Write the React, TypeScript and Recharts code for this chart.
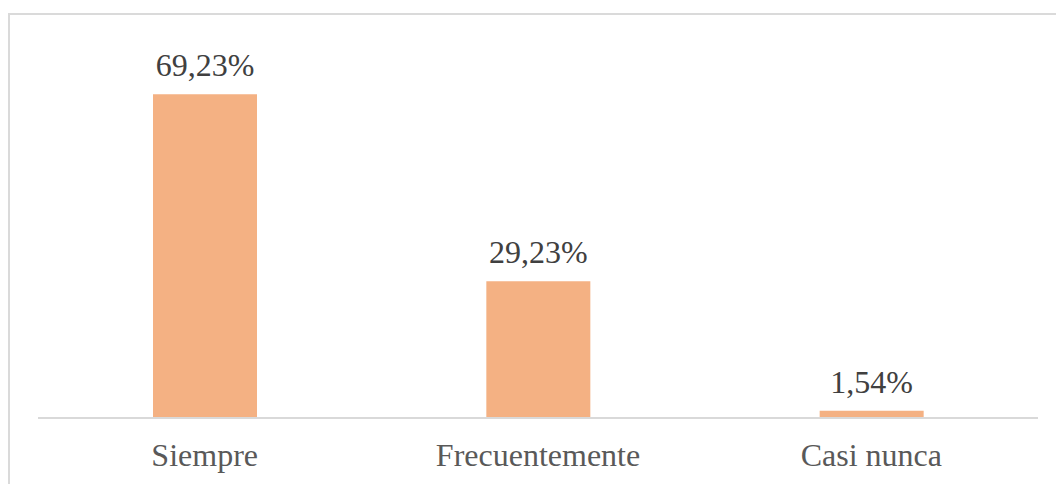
import { BarChart, Bar, XAxis, YAxis, LabelList } from 'recharts';

const categories = ['Siempre', 'Frecuentemente', 'Casi nunca'];
const percentages = [69.23, 29.23, 1.54];

const data = categories.map((name, i) => ({ name, value: percentages[i] }));

const formatPct = (v: any) => `${Number(v).toFixed(2).replace('.', ',')}%`;

const CategoryTick = ({ x, y, payload }: any) => (
  <text
    x={x}
    y={y + 48}
    textAnchor="middle"
    fill="#595959"
    fontFamily="'Liberation Serif', serif"
    fontSize={32}
  >
    {payload.value}
  </text>
);

export default function App() {
  return (
    <div
      style={{
        position: 'fixed',
        left: 8,
        top: 13,
        width: 1046,
        height: 471,
        borderLeft: '2px solid #dadada',
        borderTop: '2px solid #dadada',
        background: '#fff',
      }}
    >
      <BarChart
        width={1046}
        height={469}
        data={data}
        margin={{ top: 29, right: 18, left: 28, bottom: 6 }}
      >
        <XAxis
          dataKey="name"
          height={60}
          tickSize={0}
          tickMargin={0}
          tick={<CategoryTick />}
          axisLine={{ stroke: '#d9d9d9', strokeWidth: 2 }}
          tickLine={false}
        />
        <YAxis hide domain={[0, 80]} />
        <Bar dataKey="value" fill="#F4B183" barSize={104} isAnimationActive={false}>
          <LabelList
            dataKey="value"
            position="top"
            offset={18}
            formatter={formatPct}
            fill="#404040"
            fontFamily="'Liberation Serif', serif"
            fontSize={32}
          />
        </Bar>
      </BarChart>
    </div>
  );
}
